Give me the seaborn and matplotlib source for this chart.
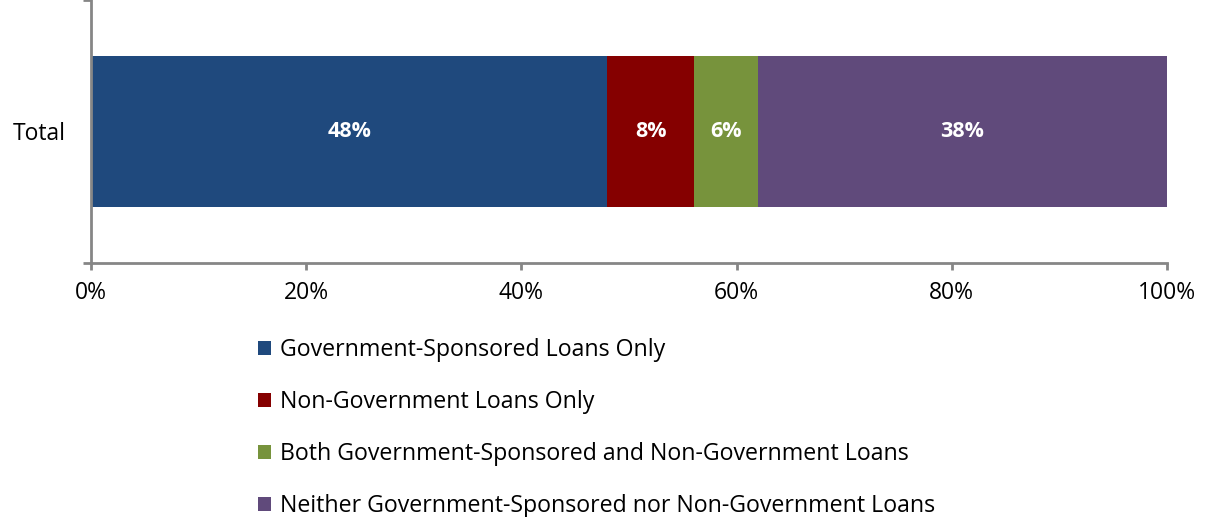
import matplotlib
matplotlib.use("Agg")
import matplotlib.pyplot as plt
import seaborn as sns
import numpy as np
from matplotlib.patches import Patch
from matplotlib.ticker import FuncFormatter

sns.set_theme(style="white")
plt.rcParams['font.family'] = ['Open Sans', 'DejaVu Sans']
plt.rcParams['text.color'] = 'black'

category = ["Total"]
series = ["Government-Sponsored Loans Only",
          "Non-Government Loans Only",
          "Both Government-Sponsored and Non-Government Loans",
          "Neither Government-Sponsored nor Non-Government Loans"]
values = [48, 8, 6, 38]
labels = ["48%", "8%", "6%", "38%"]
colors = ["#1F497D", "#850000", "#77933C", "#604A7B"]
xticks = [0, 20, 40, 60, 80, 100]

fig = plt.figure(figsize=(12.06, 5.17), dpi=100)
ax = fig.add_axes([91/1206, 1 - 263/517, (1167-91)/1206, 263/517])

cum = np.cumsum(values)
for i in range(len(values) - 1, -1, -1):
    sns.barplot(x=[cum[i]], y=category, color=colors[i], orient="h",
                width=0.574, ax=ax, saturation=1, linewidth=0)

starts = cum - np.array(values)
for s, v, lab in zip(starts, values, labels):
    ax.text(s + v / 2, 0, lab, ha="center", va="center", color="white",
            fontsize=15.5, fontweight="bold")

ax.set_xlim(0, 100)
ax.set_ylim(0.5, -0.5)
ax.set_xticks(xticks)
ax.xaxis.set_major_formatter(FuncFormatter(lambda v, p: f"{int(v)}%"))
ax.set_yticks([0])
ax.set_yticklabels(category)
ax.set_xlabel("")
ax.set_ylabel("")
for side in ["top", "right"]:
    ax.spines[side].set_visible(False)
for side in ["left", "bottom"]:
    ax.spines[side].set_color("#868686")
    ax.spines[side].set_linewidth(2)
ax.tick_params(axis="x", bottom=True, length=5, width=2, color="#868686",
               labelsize=16.5, pad=8, labelcolor="black")
ax.tick_params(axis="y", left=False, labelsize=16.5, pad=12, labelcolor="black")
ax.set_yticks([-0.5, 0.5], minor=True)
ax.tick_params(axis="y", which="minor", left=True, length=6, width=2, color="#868686")

handles = [Patch(facecolor=c, edgecolor="none") for c in colors]
fig.legend(handles, series, loc="upper left", bbox_to_anchor=(249/1206, 1 - 329/517),
           frameon=False, fontsize=16.7, handlelength=0.55, handleheight=0.55,
           handletextpad=0.4, labelspacing=1.21, borderaxespad=0, labelcolor="black")

fig.savefig("out.png", dpi=100)
